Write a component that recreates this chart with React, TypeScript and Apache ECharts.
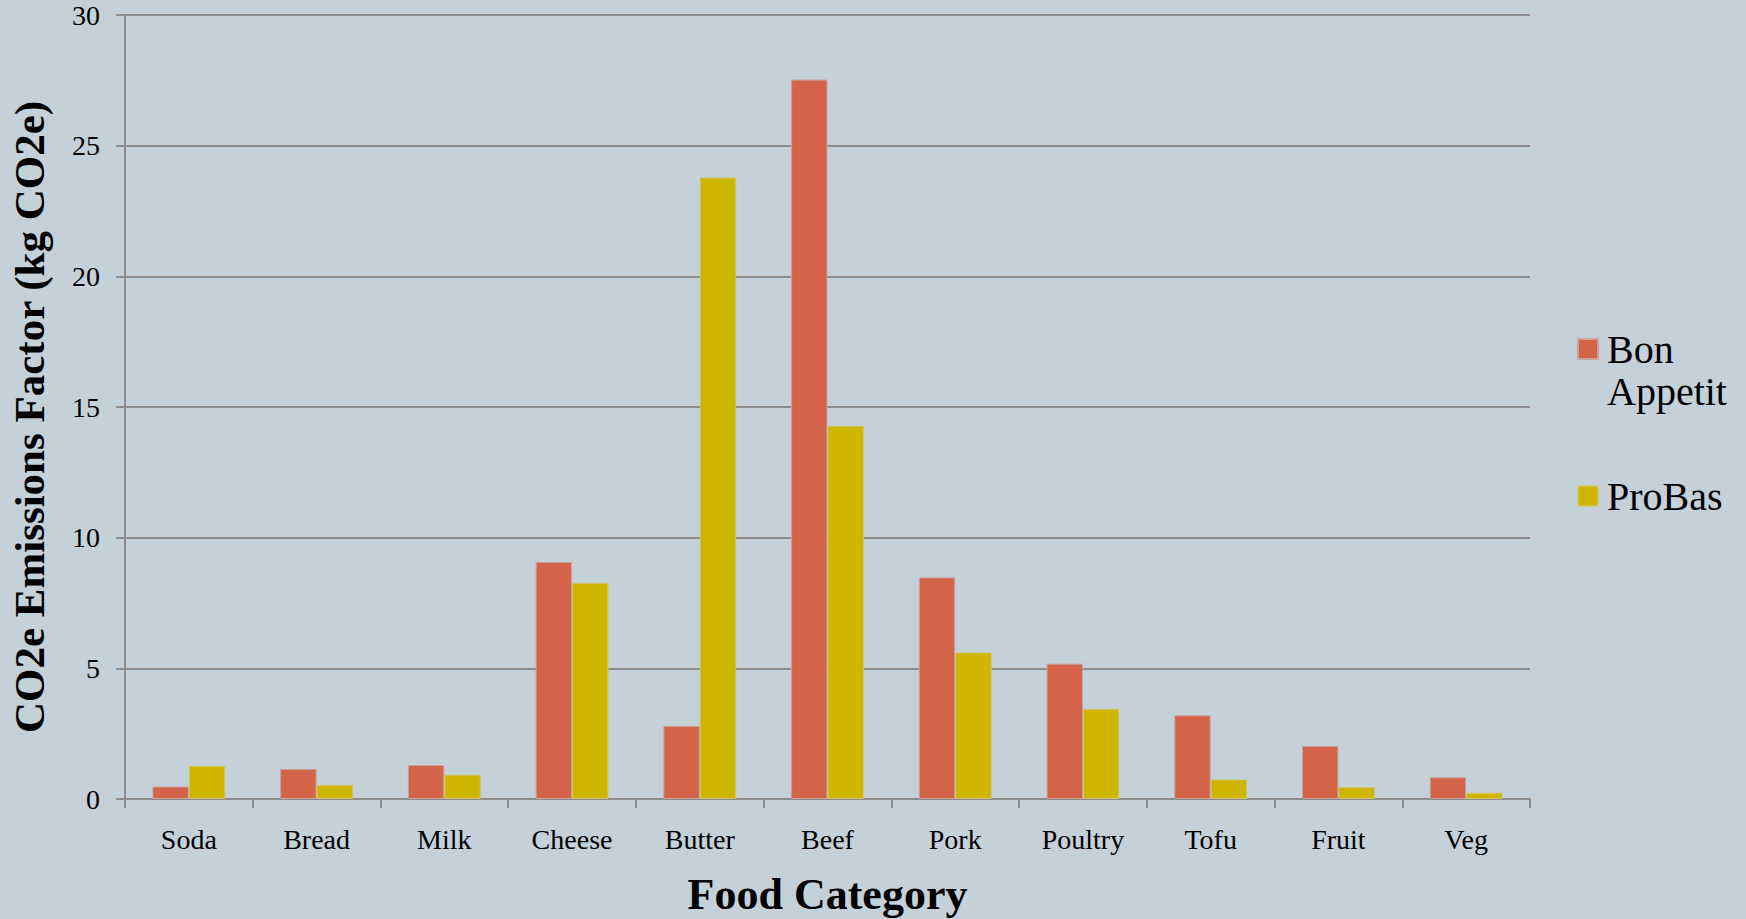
import React, { useEffect, useRef } from "react";
import * as echarts from "echarts";

const categories = ["Soda", "Bread", "Milk", "Cheese", "Butter", "Beef", "Pork", "Poultry", "Tofu", "Fruit", "Veg"];
const bonAppetit = [0.48, 1.15, 1.3, 9.07, 2.8, 27.53, 8.48, 5.18, 3.2, 2.03, 0.83];
const proBas = [1.27, 0.54, 0.93, 8.27, 23.78, 14.28, 5.61, 3.45, 0.75, 0.46, 0.24];
const yTicks = { min: 0, max: 30, interval: 5 };

const FONT = "'Liberation Serif', 'DejaVu Serif', serif";
const GRID_COLOR = "#8c8c8c";

export default function App() {
  const ref = useRef<HTMLDivElement>(null);
  useEffect(() => {
    if (!ref.current) return;
    const chart = echarts.init(ref.current, null, { renderer: "svg" });
    chart.setOption({
      animation: false,
      backgroundColor: "#c5d1d8",
      textStyle: { fontFamily: FONT },
      grid: { left: 125, top: 15, width: 1405, height: 784, containLabel: false, outerBoundsMode: "none" },
      legend: [
        {
          data: ["Bon Appetit"],
          orient: "vertical",
          left: 1577,
          top: 286,
          padding: 0,
          icon: "rect",
          itemWidth: 20,
          itemHeight: 20,
          formatter: () => "\nBon\nAppetit",
          textStyle: { fontFamily: FONT, fontSize: 40, lineHeight: 42, color: "#000", padding: [0, 0, 0, 4] },
        },
        {
          data: ["ProBas"],
          orient: "vertical",
          left: 1577,
          top: 475,
          padding: 0,
          icon: "rect",
          itemWidth: 20,
          itemHeight: 20,
          textStyle: { fontFamily: FONT, fontSize: 40, lineHeight: 42, color: "#000", padding: [0, 0, 0, 4] },
        },
      ],
      xAxis: {
        type: "category",
        data: categories,
        name: "Food Category",
        nameLocation: "middle",
        nameGap: 73,
        nameTextStyle: { fontFamily: FONT, fontSize: 44, fontWeight: "bold", color: "#000" },
        axisLine: { show: true, lineStyle: { color: GRID_COLOR, width: 2 } },
        axisTick: { show: true, length: 9, lineStyle: { color: GRID_COLOR, width: 2 } },
        axisLabel: { fontFamily: FONT, fontSize: 28, color: "#000", margin: 26, interval: 0 },
        splitLine: { show: false },
      },
      yAxis: {
        type: "value",
        min: yTicks.min,
        max: yTicks.max,
        interval: yTicks.interval,
        name: "CO2e Emissions Factor (kg CO2e)",
        nameLocation: "middle",
        nameGap: 74,
        nameTextStyle: { fontFamily: FONT, fontSize: 43, fontWeight: "bold", color: "#000", padding: [0, 20, 0, 0] },
        axisLine: { show: true, lineStyle: { color: GRID_COLOR, width: 2 } },
        axisTick: { show: true, length: 9, lineStyle: { color: GRID_COLOR, width: 2 } },
        axisLabel: { fontFamily: FONT, fontSize: 28, color: "#000", margin: 25 },
        splitLine: { show: true, lineStyle: { color: GRID_COLOR, width: 2 } },
      },
      series: [
        {
          name: "Bon Appetit",
          type: "bar",
          data: bonAppetit,
          barGap: "0%",
          barCategoryGap: "43%",
          itemStyle: { color: "#d3644a", borderColor: "#c9a29a", borderWidth: 1 },
        },
        {
          name: "ProBas",
          type: "bar",
          data: proBas,
          barGap: "0%",
          barCategoryGap: "43%",
          itemStyle: { color: "#ceb500", borderColor: "#cfc56e", borderWidth: 1 },
        },
      ],
    });
    return () => chart.dispose();
  }, []);
  return (
    <div
      ref={ref}
      style={{ position: "fixed", left: 0, top: 0, width: 1746, height: 919 }}
    />
  );
}
